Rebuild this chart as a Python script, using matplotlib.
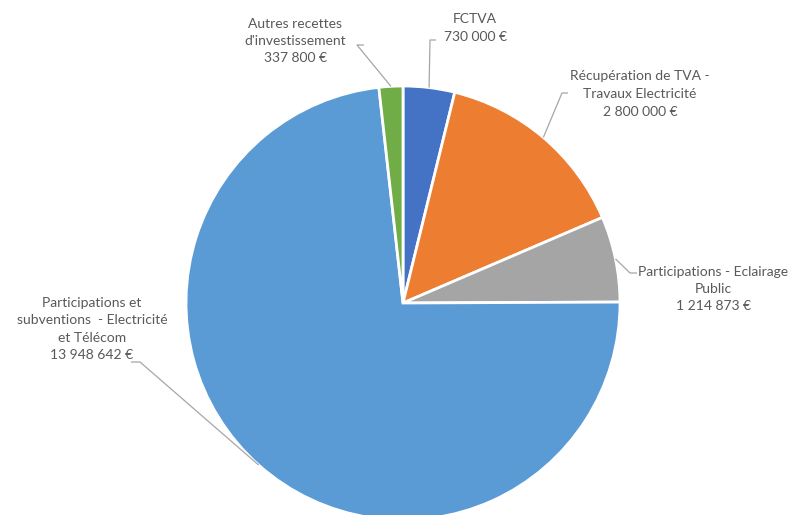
import numpy as np
import matplotlib.pyplot as plt

# slices, clockwise from 12 o'clock
labels = [
    "FCTVA",
    "Récupération de TVA -\nTravaux Electricité",
    "Participations - Eclairage\nPublic",
    "Participations et\nsubventions  - Electricité\net Télécom",
    "Autres recettes\nd'investissement",
]
values = [730000, 2800000, 1214873, 13948642, 337800]
colors = ["#4472C4", "#ED7D31", "#A5A5A5", "#5B9BD5", "#70AD47"]


def euro(v):
    return f"{v:,}".replace(",", " ") + " €"


W, H = 793, 515
fig = plt.figure(figsize=(W / 100, H / 100), dpi=100)
ax = fig.add_axes([0, 0, 1, 1])

cx, cy, r = 403, H - 303, 217
wedges, _ = ax.pie(values, colors=colors, startangle=90, counterclock=False,
                   center=(cx, cy), radius=r,
                   wedgeprops=dict(edgecolor="white", linewidth=2))
ax.set_xlim(0, W)
ax.set_ylim(0, H)
ax.set_aspect("equal")
ax.axis("off")

# label layout: text centre, elbow point of the leader, end of the short tick
layout = [
    dict(xy=(475, 28), elbow=(430, 40), tick=(436, 40)),
    dict(xy=(640, 94), elbow=(562, 93), tick=(568, 93)),
    dict(xy=(713, 289), elbow=(630, 273), tick=(637, 273)),
    dict(xy=(92, 329), elbow=(140, 362), tick=(131, 362)),
    dict(xy=(295, 41), elbow=(357, 45), tick=(364, 45)),
]

cum = np.cumsum([0] + values)
total = cum[-1]
for i, (lab, v) in enumerate(zip(labels, values)):
    mid = 360 * (cum[i] + v / 2) / total
    a = np.deg2rad(mid)
    px, py = cx + r * np.sin(a), cy + r * np.cos(a)
    L = layout[i]
    ex, ey = L["elbow"]
    tx, ty = L["tick"]
    ax.plot([px, ex, tx], [py, H - ey, H - ty], color="#A6A6A6", lw=0.9,
            solid_capstyle="butt", zorder=3)
    ax.text(L["xy"][0], H - L["xy"][1], f"{lab}\n{euro(v)}", ha="center",
            va="center", fontsize=10, family="Lato", color="#595959",
            linespacing=1.55)

fig.savefig("out.png", dpi=100)
